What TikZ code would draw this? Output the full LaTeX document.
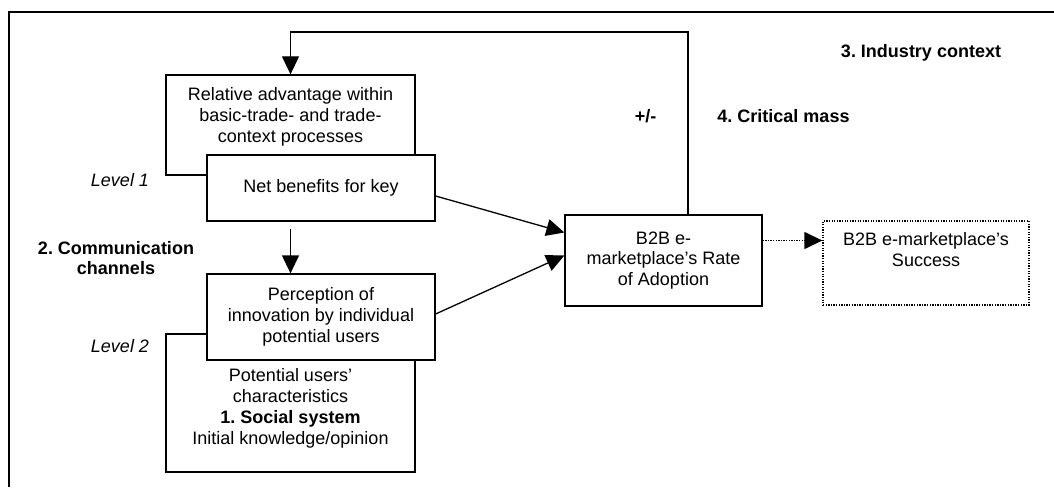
\documentclass[tikz,border=0pt]{standalone}
\usepackage{fontspec}
\setmainfont{Liberation Sans}
\usetikzlibrary{arrows.meta,positioning,calc}
\frenchspacing

\begin{document}
\begin{tikzpicture}[x=1pt,y=-1pt,>={Triangle[length=18pt,width=17pt]},
  every node/.style={font=\fontsize{18}{20.7}\selectfont},
  box/.style={draw,line width=1.3pt,fill=white,align=center,inner sep=0pt},
  dots/.style={dash pattern=on 1.3pt off 1.3pt},
  ctx/.style={font=\fontsize{18}{20.7}\selectfont\bfseries,align=center},
  lvl/.style={font=\fontsize{18}{20.7}\selectfont\itshape},
  conn/.style={line width=1.3pt}]
  \useasboundingbox (0,0) rectangle (1054,487);
  \draw[line width=2pt] (1054,12) -- (9,12) -- (9,487);

  % boxes behind
  \node[box,minimum width=249,minimum height=100] (adv) at (290.5,125) {};
  \node[anchor=north,align=center] (advtxt) at ([yshift=-10pt]adv.north)
    {Relative advantage within\\basic-trade- and trade-\\context processes};
  \node[box,minimum width=249,minimum height=138] (users) at (290.5,403) {};
  \node[anchor=north,align=center] (userstxt) at ([yshift=-32pt]users.north)
    {Potential users'\\characteristics\\\textbf{1. Social system}\\Initial knowledge/opinion};

  % boxes in front
  \node[box,minimum width=228,minimum height=66] (net) at (321,188) {Net benefits for key};
  \node[box,minimum width=228,minimum height=86] (perc) at (321,317)
    {Perception of\\innovation by individual\\potential users};
  \node[box,minimum width=197,minimum height=91] (rate) at (663.5,260.5)
    {B2B e-\\marketplace's Rate\\of Adoption};
  \node[box,dots,minimum width=206,minimum height=84] (succ) at (926,263)
    {B2B e-marketplace's\\Success\\[6pt]};

  % labels
  \node[ctx] (industry) at (921,53) {3. Industry context};
  \node[ctx] (mass) at (783.5,116) {4. Critical mass};
  \node[ctx] (sign) at (645.5,116) {+/-};
  \node[ctx] (comm) at (116,258) {2. Communication\\channels};
  \node[lvl] (lvlone) at (120,180) {Level 1};
  \node[lvl] (lvltwo) at (120,346) {Level 2};

  % connectors
  \coordinate (top) at (688,32);
  \draw[conn,->] (top |- rate.north) -- (top) -| (adv.north);
  \draw[conn,->] ([yshift=-7pt]net.south -| adv.north) -- (perc.north -| adv.north);
  \draw[conn,->] ([yshift=-8pt]net.east) -- ([yshift=28pt]rate.west);
  \draw[conn,->] ([yshift=3pt]perc.east) -- ([yshift=5pt]rate.west);
  \draw[conn,->,dots] ([yshift=20pt]rate.east) coordinate (d) -- (d -| succ.west);
\end{tikzpicture}
\end{document}
